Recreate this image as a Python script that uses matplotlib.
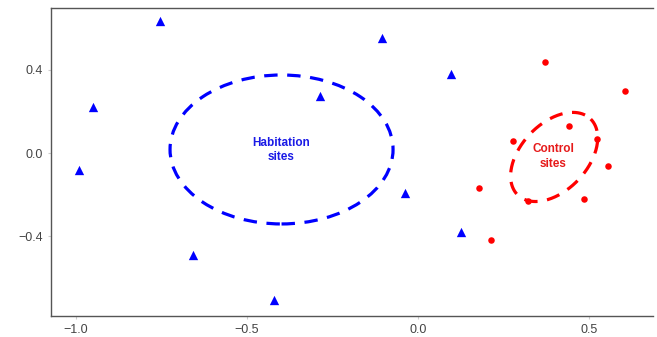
import numpy as np
import matplotlib
matplotlib.use("Agg")
import matplotlib.pyplot as plt
from matplotlib.patches import Ellipse

plt.rcParams['font.family'] = ['Liberation Sans', 'DejaVu Sans']

# Habitation sites (blue triangles)
hab_x = [-0.754, -0.950, -0.991, -0.658, -0.421, -0.105, -0.287, 0.096, -0.038, 0.126]
hab_y = [0.635, 0.221, -0.082, -0.490, -0.707, 0.553, 0.274, 0.380, -0.192, -0.380]

# Control sites (red points)
ctl_x = [0.370, 0.605, 0.442, 0.279, 0.524, 0.555, 0.178, 0.323, 0.485, 0.212]
ctl_y = [0.439, 0.298, 0.130, 0.059, 0.066, -0.062, -0.170, -0.229, -0.221, -0.418]

# Ellipse parameters
hab_center = (-0.399, 0.017)
hab_width, hab_height = 0.652, 0.716
ctl_center = (0.398, -0.019)
ctl_major = (0.107, 0.182)   # semi-axis vector (data units)
ctl_minor = (0.069, -0.113)  # semi-axis vector (data units)

xticks = [-1.0, -0.5, 0.0, 0.5]
yticks = [-0.4, 0.0, 0.4]

fig = plt.figure(figsize=(6.57, 3.37), dpi=100)
ax = fig.add_axes([51/657, 1 - 315.7/337, (653-51)/657, (315.7-8)/337])

ax.scatter(hab_x, hab_y, marker='^', s=45, color='blue', zorder=3, linewidths=0)
ax.scatter(ctl_x, ctl_y, marker='o', s=22, color='red', zorder=3, linewidths=0)

dash = (0, (4.2, 3.0))
ax.add_patch(Ellipse(hab_center, hab_width, hab_height, fill=False,
                     edgecolor='blue', lw=2.3, linestyle=dash))

t = np.linspace(0, 2 * np.pi, 300)
ex = ctl_center[0] + ctl_major[0] * np.cos(t) + ctl_minor[0] * np.sin(t)
ey = ctl_center[1] + ctl_major[1] * np.cos(t) + ctl_minor[1] * np.sin(t)
ax.plot(ex, ey, color='red', lw=2.3, linestyle=dash)

ax.text(-0.401, 0.014, "Habitation\nsites", color='#1a1ae6', fontsize=8.5,
        fontweight='bold', ha='center', va='center', linespacing=1.25)
ax.text(0.395, -0.017, "Control\nsites", color='#e61a1a', fontsize=8.5,
        fontweight='bold', ha='center', va='center', linespacing=1.25)

ax.set_xlim(-1.073, 0.687)
ax.set_ylim(-0.782, 0.697)
ax.set_xticks(xticks)
ax.set_yticks(yticks)
ax.set_xticklabels([f"{v:.1f}".replace('-', '\u2212') for v in xticks])
ax.set_yticklabels([f"{v:.1f}".replace('-', '\u2212') for v in yticks])

for s in ['left', 'bottom', 'top']:
    ax.spines[s].set_color('#555555')
    ax.spines[s].set_linewidth(1.0)
ax.spines['right'].set_visible(False)
ax.tick_params(axis='both', colors='#cccccc', labelcolor='#444444',
               labelsize=9, length=2, width=0.8, pad=4)

fig.savefig('out.png', dpi=100)
